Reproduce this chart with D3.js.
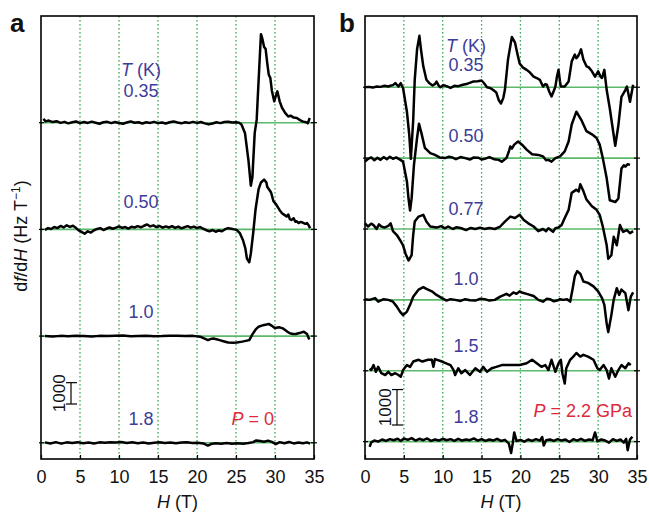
<!DOCTYPE html>
<html>
<head>
<meta charset="utf-8">
<script src="https://cdn.jsdelivr.net/npm/d3@7"></script>
<style>
  body { margin: 0; background: #fff; }
  svg { display: block; font-family: "Liberation Sans", Arial, sans-serif; }
</style>
</head>
<body>
<svg id="chart" width="649" height="513"></svg>
<script>
// df/dH traces, [H (T), df/dH (Hz/T)]

// panel a, P = 0
const a035 = [[0.3,180],[0.6,60],[1.0,100],[1.5,30],[2.0,70],[2.5,-10],[3.0,40],[3.5,-30],[4.0,20],[4.5,60],[5.0,-20],[5.5,30],[6.0,-10],[6.5,50],[7.0,0],[7.5,-50],[8.0,20],[8.5,40],[9.0,-20],[9.5,30],[10.0,-10],[10.5,-50],[11.0,10],[11.5,60],[12.0,0],[12.5,20],[13.0,-40],[13.5,20],[14.0,-10],[14.5,40],[15.0,-20],[15.5,10],[16.0,-40],[16.5,20],[17.0,60],[17.5,10],[18.0,-30],[18.5,20],[19.0,-10],[19.5,40],[20.0,-10],[20.5,30],[21.0,-30],[21.5,-80],[22.0,-40],[22.5,20],[23.0,-20],[23.5,30],[24.0,40],[24.5,10],[25.0,20],[25.4,0],[25.7,-80],[26.15,-480],[26.6,-1780],[26.9,-2950],[27.1,-2560],[27.4,-480],[27.65,130],[27.86,1700],[28.08,3300],[28.2,4150],[28.4,3900],[28.6,3550],[28.8,3450],[29.0,2800],[29.2,2250],[29.4,2100],[29.6,1500],[29.9,1000],[30.1,1250],[30.3,1470],[30.6,1000],[30.9,700],[31.3,460],[31.7,290],[32.0,330],[32.4,240],[32.8,220],[33.2,120],[33.6,50],[34.0,20],[34.2,-30],[34.45,220]];
const a050 = [[0.5,-30],[0.9,60],[1.3,20],[1.7,110],[2.1,60],[2.5,160],[2.9,90],[3.3,190],[3.7,120],[4.1,170],[4.5,60],[4.9,-60],[5.3,-140],[5.6,-200],[6.0,-90],[6.4,-150],[6.8,-40],[7.2,20],[7.6,60],[8.0,-30],[8.4,40],[8.8,90],[9.2,30],[9.6,80],[10.0,140],[10.4,70],[10.8,110],[11.2,40],[11.6,120],[12.0,90],[12.4,150],[12.8,100],[13.2,170],[13.6,230],[14.0,140],[14.4,190],[14.8,110],[15.2,160],[15.6,80],[16.0,140],[16.4,90],[16.8,150],[17.2,70],[17.6,130],[18.0,50],[18.4,100],[18.8,150],[19.2,80],[19.6,130],[20.0,60],[20.4,110],[20.8,30],[21.2,-40],[21.6,-90],[22.0,-30],[22.4,-110],[22.8,-50],[23.2,-90],[23.6,10],[24.0,60],[24.4,30],[24.8,0],[25.1,-30],[25.5,-180],[25.9,-510],[26.2,-890],[26.4,-1370],[26.7,-1540],[26.9,-1130],[27.2,-180],[27.5,920],[27.9,1890],[28.2,2200],[28.6,2330],[28.9,2200],[29.0,2000],[29.2,1890],[29.5,1730],[29.8,1320],[30.1,1200],[30.3,1080],[30.6,900],[30.9,760],[31.2,680],[31.5,600],[31.7,700],[31.9,480],[32.1,440],[32.4,520],[32.6,360],[32.8,380],[33.0,300],[33.3,350],[33.6,310],[33.9,260],[34.1,300],[34.3,200],[34.5,50]];
const a100 = [[0.5,0],[1.5,-20],[2.5,10],[3.5,-10],[4.5,20],[5.5,0],[6.5,-20],[7.5,10],[8.5,0],[9.5,20],[10.5,30],[11.5,-10],[12.5,0],[13.5,10],[14.5,-10],[15.5,0],[16.5,20],[17.5,10],[18.5,0],[19.5,10],[20.4,-30],[20.9,-110],[21.4,-190],[21.8,-130],[22.1,-110],[22.5,-150],[22.9,-190],[23.5,-250],[24.0,-300],[24.6,-310],[25.1,-300],[25.8,-260],[26.7,-190],[27.1,80],[27.5,300],[27.9,440],[28.3,490],[28.6,520],[28.9,540],[29.2,570],[29.6,480],[30.0,370],[30.3,400],[30.6,410],[31.0,360],[31.3,285],[31.6,200],[31.9,130],[32.3,100],[32.7,95],[33.0,130],[33.3,160],[33.7,205],[34.1,95],[34.4,-160]];
const a180 = [[0.5,20],[1.2,-30],[1.9,30],[2.6,-40],[3.3,20],[4.0,-10],[4.7,30],[5.4,-20],[6.1,10],[6.8,-30],[7.5,20],[8.2,0],[8.9,30],[9.6,10],[10.3,40],[11.0,-10],[11.7,20],[12.4,-20],[13.1,10],[13.8,-30],[14.5,0],[15.2,20],[15.9,-10],[16.6,10],[17.3,-20],[18.0,10],[18.7,20],[19.4,-10],[20.1,0],[20.8,-30],[21.4,-130],[21.8,-60],[22.4,-20],[23.1,-40],[23.8,-10],[24.5,-50],[25.2,-20],[25.9,-40],[26.6,-10],[27.2,30],[27.6,110],[28.1,80],[28.6,50],[29.1,100],[29.6,40],[30.1,-60],[30.6,30],[31.2,-20],[31.8,40],[32.4,-30],[33.0,10],[33.6,-20],[34.1,20],[34.5,-40]];

// panel b, P = 2.2 GPa
const b035 = [[0,0],[0.5,10],[1.0,-10],[1.5,20],[2.0,10],[2.5,40],[3.0,20],[3.2,40],[3.6,60],[3.9,115],[4.3,20],[4.6,115],[4.9,-30],[5.4,-700],[5.7,-1360],[5.9,-2020],[6.2,-940],[6.4,210],[6.7,1070],[7.0,1450],[7.2,1070],[7.5,590],[7.9,210],[8.3,110],[8.7,50],[9.0,90],[9.2,160],[9.5,40],[9.7,0],[10.1,60],[10.5,30],[11.0,-20],[11.5,40],[12.0,30],[12.6,70],[13.2,100],[13.9,160],[14.5,170],[15.0,190],[15.3,120],[15.7,0],[16.1,-20],[16.5,-80],[16.9,-150],[17.2,-360],[17.5,-460],[17.8,-300],[18.0,-80],[18.4,780],[18.9,1420],[19.3,1260],[19.6,950],[19.9,670],[20.3,560],[20.8,490],[21.2,420],[21.7,300],[22.1,260],[22.5,210],[22.9,20],[23.2,90],[23.4,70],[23.7,-120],[24.0,-260],[24.3,-100],[24.5,20],[24.7,300],[24.9,490],[25.1,150],[25.2,20],[25.7,20],[26.2,160],[26.6,730],[27.0,920],[27.2,820],[27.4,870],[27.6,960],[27.8,1070],[28.1,780],[28.5,590],[28.8,560],[29.2,450],[29.6,300],[30.0,450],[30.3,300],[30.5,260],[30.8,490],[31.1,-80],[31.5,-600],[32.2,-1650],[32.6,-1080],[33.0,-270],[33.5,-80],[33.7,20],[34.1,-410],[34.5,70]];
const b050 = [[0,-100],[0.4,-20],[0.8,20],[1.2,-60],[1.6,10],[2.0,-50],[2.4,30],[2.8,-30],[3.2,40],[3.6,-20],[4.0,20],[4.4,-30],[4.9,-100],[5.4,-670],[5.6,-1140],[5.8,-1480],[6.0,-1130],[6.3,-190],[6.7,570],[6.95,970],[7.3,670],[7.7,290],[8.4,140],[9.0,90],[9.6,20],[10.3,0],[10.8,40],[11.2,20],[11.7,-30],[12.3,30],[12.9,0],[13.5,-40],[14.0,20],[14.6,10],[15.0,-40],[15.4,-20],[16.0,30],[16.6,-30],[17.2,-50],[17.6,-100],[18.2,0],[18.5,180],[18.7,330],[18.9,270],[19.2,380],[19.7,470],[20.2,380],[20.8,240],[21.5,110],[22.3,90],[22.9,50],[23.3,-60],[23.6,-50],[24.0,-100],[24.5,0],[25.1,50],[25.7,190],[26.2,470],[26.6,950],[27.2,1310],[27.9,1050],[28.5,760],[29.2,670],[29.8,570],[30.2,380],[30.6,0],[31.1,-570],[31.5,-1190],[32.2,-1240],[32.6,-1140],[33.0,-290],[33.3,-200],[33.5,-240],[33.8,-170],[34.1,-190]];
const b077 = [[0,160],[0.4,70],[0.8,150],[1.1,110],[1.5,0],[1.8,130],[2.1,70],[2.5,40],[3.0,90],[3.3,160],[3.6,-60],[4.1,-170],[4.5,-310],[4.9,-460],[5.2,-690],[5.6,-890],[6.0,-740],[6.2,-170],[6.4,210],[6.9,350],[7.5,400],[7.9,210],[8.4,70],[9.2,40],[9.8,80],[10.3,20],[10.7,70],[11.3,0],[11.8,50],[12.4,20],[13.0,-30],[13.6,30],[14.2,0],[14.8,40],[15.4,0],[16.0,30],[16.7,0],[17.4,70],[18.0,210],[18.7,350],[19.3,310],[19.9,400],[20.4,260],[21.0,160],[21.7,70],[22.3,-60],[22.9,0],[23.3,-60],[23.6,20],[24.2,-80],[24.5,20],[24.9,40],[25.3,110],[25.7,310],[26.2,540],[26.6,1020],[27.2,1110],[27.5,1060],[27.7,1260],[28.1,1070],[28.5,830],[29.2,640],[29.8,540],[30.2,400],[30.6,70],[31.1,-460],[31.3,-840],[31.7,-740],[32.0,-220],[32.4,-460],[32.8,110],[33.2,-80],[33.7,-30],[34.1,-120],[34.5,-60]];
const b100 = [[0,20],[0.6,0],[1.3,50],[1.7,-50],[2.4,20],[3.0,0],[3.6,-50],[4.1,-190],[4.5,-330],[4.9,-430],[5.4,-330],[5.8,-140],[6.2,90],[6.9,290],[7.5,360],[7.9,310],[8.6,240],[9.2,140],[9.9,50],[10.5,-20],[11.0,20],[11.6,0],[12.3,-30],[12.9,20],[13.5,-10],[14.2,-20],[14.8,30],[15.4,20],[16.0,-20],[16.7,0],[17.4,90],[18.2,170],[18.6,120],[19.1,210],[19.5,170],[19.9,240],[20.3,200],[20.8,170],[21.7,110],[22.3,0],[22.9,-50],[23.4,30],[23.8,20],[24.3,-40],[24.7,-20],[25.1,20],[25.5,0],[26.0,20],[26.4,-50],[26.7,290],[27.0,670],[27.3,810],[27.7,740],[28.1,520],[28.7,480],[29.4,380],[30.0,240],[30.5,50],[30.8,-140],[31.1,-670],[31.3,-910],[31.7,-430],[32.0,0],[32.4,330],[32.7,140],[33.0,290],[33.5,190],[33.9,-290],[34.2,90],[34.5,210]];
const b150 = [[0.6,60],[0.8,20],[1.1,160],[1.4,-30],[1.7,110],[2.1,-70],[2.6,-120],[3.0,-30],[3.4,-120],[3.9,-70],[4.3,-120],[4.6,-170],[4.9,20],[5.4,160],[5.8,110],[6.2,260],[6.9,310],[7.4,260],[8.1,310],[8.6,310],[8.8,110],[9.0,330],[9.9,260],[11.0,160],[11.4,20],[11.6,-120],[12.0,70],[12.4,-70],[12.9,20],[13.5,-120],[14.2,70],[14.8,-30],[15.2,110],[15.7,-30],[16.3,70],[16.9,110],[17.6,160],[18.2,160],[19.1,160],[19.9,160],[20.8,210],[21.5,310],[22.1,210],[22.7,110],[23.2,160],[23.6,20],[24.0,310],[24.5,-30],[24.9,210],[25.2,310],[25.4,-70],[25.7,-360],[25.9,70],[26.4,310],[26.8,400],[27.2,500],[27.7,400],[28.1,450],[28.7,400],[29.4,310],[29.9,70],[30.2,20],[30.7,160],[31.1,20],[31.4,-220],[31.7,70],[32.2,-170],[32.6,20],[33.0,160],[33.5,70],[33.9,210],[34.2,160]];
const b180 = [[0.6,-150],[0.8,-20],[1.2,30],[1.7,0],[2.2,60],[2.7,20],[3.2,70],[3.7,40],[4.2,80],[4.6,20],[5.0,90],[5.5,50],[6.0,100],[6.5,30],[7.0,80],[7.5,40],[8.0,90],[8.5,20],[9.0,60],[9.5,30],[10.0,80],[10.5,40],[11.0,70],[11.5,20],[12.0,80],[12.5,30],[13.0,60],[13.5,40],[14.0,90],[14.5,30],[15.0,70],[15.5,20],[16.0,60],[16.5,30],[17.0,80],[17.5,20],[18.0,50],[18.5,-50],[18.8,-320],[19.0,-60],[19.2,260],[19.5,20],[20.0,50],[20.5,0],[21.0,60],[21.5,20],[22.0,70],[22.5,30],[22.8,130],[23.0,-110],[23.3,40],[23.8,60],[24.3,20],[24.8,70],[25.3,30],[25.8,60],[26.3,-10],[26.8,70],[27.3,30],[27.8,80],[28.3,20],[28.8,60],[29.3,40],[29.6,260],[29.9,10],[30.4,60],[30.9,30],[31.4,-30],[31.9,70],[32.4,20],[32.9,60],[33.3,-30],[33.6,80],[33.8,-240],[34.1,60],[34.4,140]];

const tempsA = ["0.35", "0.50", "1.0", "1.8"];
const tempsB = ["0.35", "0.50", "0.77", "1.0", "1.5", "1.8"];
const xTicks = [0, 5, 10, 15, 20, 25, 30, 35];
const gridH = [5, 10, 15, 20, 25, 30];
const stepA = 5000, stepB = 2000;   // vertical offset between traces (Hz/T)
const scaleBar = 1000;

const svg = d3.select("#chart");
const plotTop = 16, plotBottom = 459;
const blue = "#3d3d98", red = "#e0283c", gridGreen = "#2faa4a", baseGreen = "#5cb86a";

function drawPanel(p) {
    const g = svg.append("g");
    const x = d3.scaleLinear().domain([0, 35]).range([p.left, p.right]);
    const y = d3.scaleLinear().domain(p.yDomain).range([plotBottom, plotTop]);

    // dotted grid
    g.selectAll(".grid").data(gridH).enter().append("line")
        .attr("x1", d => x(d)).attr("x2", d => x(d))
        .attr("y1", plotTop).attr("y2", plotBottom)
        .attr("stroke", gridGreen).attr("stroke-width", 1.3)
        .attr("stroke-dasharray", "1.4,2.6");

    const n = p.series.length;
    const offset = i => (n - 1 - i) * p.step;

    // baselines
    p.series.forEach((s, i) => {
        const yb = y(offset(i));
        g.append("line")
            .attr("x1", p.left).attr("x2", p.right)
            .attr("y1", yb).attr("y2", yb)
            .attr("stroke", baseGreen).attr("stroke-width", 1.6);
        g.append("line")
            .attr("x1", p.right - 3).attr("x2", p.right + 3)
            .attr("y1", yb).attr("y2", yb)
            .attr("stroke", "#000").attr("stroke-width", 1.2);
        g.append("line")
            .attr("x1", p.left - 2).attr("x2", p.left + 3)
            .attr("y1", yb).attr("y2", yb)
            .attr("stroke", "#000").attr("stroke-width", 1.2);
    });

    // traces
    p.series.forEach((s, i) => {
        const line = d3.line()
            .x(d => x(d[0]))
            .y(d => y(d[1] + offset(i)));
        g.append("path")
            .datum(s)
            .attr("fill", "none")
            .attr("stroke", "#000")
            .attr("stroke-width", 2.5)
            .attr("stroke-linejoin", "round")
            .attr("d", line);
    });

    // frame
    g.append("rect")
        .attr("x", p.left).attr("y", plotTop)
        .attr("width", p.right - p.left).attr("height", plotBottom - plotTop)
        .attr("fill", "none").attr("stroke", "#000").attr("stroke-width", 1.6);

    // x axis
    const ax = g.append("g")
        .attr("transform", `translate(0,${plotBottom})`)
        .call(d3.axisBottom(x).tickValues(xTicks).tickSizeInner(-4).tickSizeOuter(0).tickPadding(11));
    ax.select(".domain").remove();
    ax.selectAll(".tick line").attr("stroke-width", 1.2);
    ax.selectAll("text").attr("font-size", 18).attr("font-family", "Liberation Sans, Arial, sans-serif").attr("fill", "#111");

    const xt = g.append("text")
        .attr("x", (p.left + p.right) / 2).attr("y", 508)
        .attr("text-anchor", "middle").attr("font-size", 18).attr("fill", "#111");
    xt.append("tspan").attr("font-style", "italic").text("H");
    xt.append("tspan").text(" (T)");

    // temperature labels
    const th = g.append("text")
        .attr("x", p.labelX).attr("y", p.headY)
        .attr("text-anchor", "middle").attr("font-size", 18).attr("fill", blue);
    th.append("tspan").attr("font-style", "italic").text("T");
    th.append("tspan").text(" (K)");
    g.selectAll(".tlab").data(p.temps).enter().append("text")
        .attr("x", p.labelX).attr("y", (d, i) => p.labelY[i])
        .attr("text-anchor", "middle").attr("font-size", 18).attr("fill", blue)
        .text(d => d);

    // pressure
    const pt = g.append("text")
        .attr("x", p.pX).attr("y", p.pY)
        .attr("text-anchor", "end").attr("font-size", 18).attr("fill", red);
    pt.append("tspan").attr("font-style", "italic").text("P");
    pt.append("tspan").text(" = " + p.pText);

    // scale bar
    const barLen = y(0) - y(scaleBar);
    const y0 = p.barBottom, y1 = p.barBottom - barLen;
    g.append("line").attr("x1", p.barX).attr("x2", p.barX).attr("y1", y0).attr("y2", y1)
        .attr("stroke", "#000").attr("stroke-width", 1.2);
    [y0, y1].forEach(yy => g.append("line")
        .attr("x1", p.barX - 5).attr("x2", p.barX + 6).attr("y1", yy).attr("y2", yy)
        .attr("stroke", "#000").attr("stroke-width", 1.2));
    g.append("text")
        .attr("transform", `translate(${p.barX - 6},${(y0 + y1) / 2}) rotate(-90)`)
        .attr("text-anchor", "middle").attr("font-size", 17).attr("fill", "#111")
        .text(String(scaleBar));

    // panel letter
    svg.append("text")
        .attr("x", p.letterX).attr("y", 32)
        .attr("font-size", 26).attr("font-weight", "bold").attr("fill", "#111")
        .text(p.letter);
}

drawPanel({
    letter: "a", letterX: 10,
    left: 41, right: 314,
    yDomain: [-760, 20000], step: stepA,
    series: [a035, a050, a100, a180], temps: tempsA,
    labelX: 141, headY: 76, labelY: [97, 208, 318, 425],
    pText: "0", pX: 274, pY: 425,
    barX: 71, barBottom: 404
});

drawPanel({
    letter: "b", letterX: 339,
    left: 365, right: 637,
    yDomain: [-490, 12010], step: stepB,
    series: [b035, b050, b077, b100, b150, b180], temps: tempsB,
    labelX: 466, headY: 52, labelY: [71, 142, 215, 285, 352, 423],
    pText: "2.2 GPa", pX: 632, pY: 417,
    barX: 397, barBottom: 425
});

// y title
const yt = svg.append("text")
    .attr("transform", "translate(27,236) rotate(-90)")
    .attr("text-anchor", "middle").attr("font-size", 18).attr("fill", "#111");
yt.append("tspan").text("d");
yt.append("tspan").attr("font-style", "italic").text("f");
yt.append("tspan").text("/d");
yt.append("tspan").attr("font-style", "italic").text("H");
yt.append("tspan").text(" (Hz T");
yt.append("tspan").attr("font-size", 12).attr("dy", -7).text("\u22121");
yt.append("tspan").attr("dy", 7).text(")");
</script>
</body>
</html>
